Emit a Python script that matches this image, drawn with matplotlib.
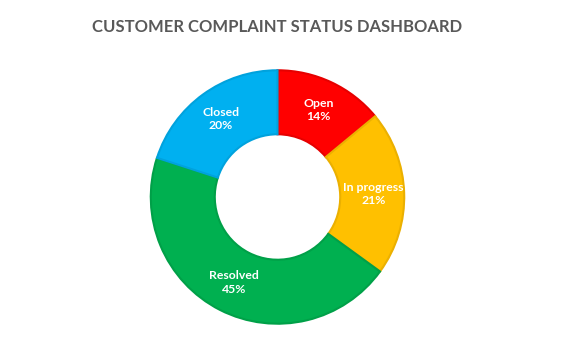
import matplotlib
matplotlib.use("Agg")
import matplotlib.pyplot as plt
import numpy as np

# complaint status shares (percent)
statuses = ["Open", "In progress", "Resolved", "Closed"]
shares = [14, 21, 45, 20]
colors = ["#FF0000", "#FFC000", "#00B050", "#00B0F0"]
edge_colors = ["#E60000", "#EBB000", "#00A048", "#00A2DD"]

plt.rcParams['font.family'] = ['Lato', 'DejaVu Sans']

W, H = 561, 345
fig = plt.figure(figsize=(W / 100, H / 100), dpi=100)
fig.patch.set_facecolor("white")

# donut center (277.5, 197) from top, outer radius 128 px
cx, cy, r = 277.5, H - 197, 128
ax = fig.add_axes([(cx - r) / W, (cy - r) / H, 2 * r / W, 2 * r / H])

wedges, _ = ax.pie(shares, colors=colors, startangle=90, counterclock=False,
                   radius=0.99, wedgeprops=dict(width=0.5))
for w, ec in zip(wedges, edge_colors):
    w.set_edgecolor(ec)
    w.set_linewidth(1.5)

ax.set_xlim(-1, 1)
ax.set_ylim(-1, 1)
ax.set_aspect("equal")
ax.axis("off")

start = 90.0
for name, val in zip(statuses, shares):
    mid = np.deg2rad(start - val / 100 * 360 / 2)
    start -= val / 100 * 360
    ax.text(0.75 * np.cos(mid), 0.75 * np.sin(mid), f"{name}\n{val}%",
            ha="center", va="center", color="white", fontsize=8.8,
            fontweight="bold", linespacing=1.25)

fig.text(277.5 / W, 1 - 27 / H, "CUSTOMER COMPLAINT STATUS DASHBOARD",
         ha="center", va="center", fontsize=12, fontweight="bold",
         color="#595959")

fig.savefig("out.png", dpi=100, facecolor="white")
